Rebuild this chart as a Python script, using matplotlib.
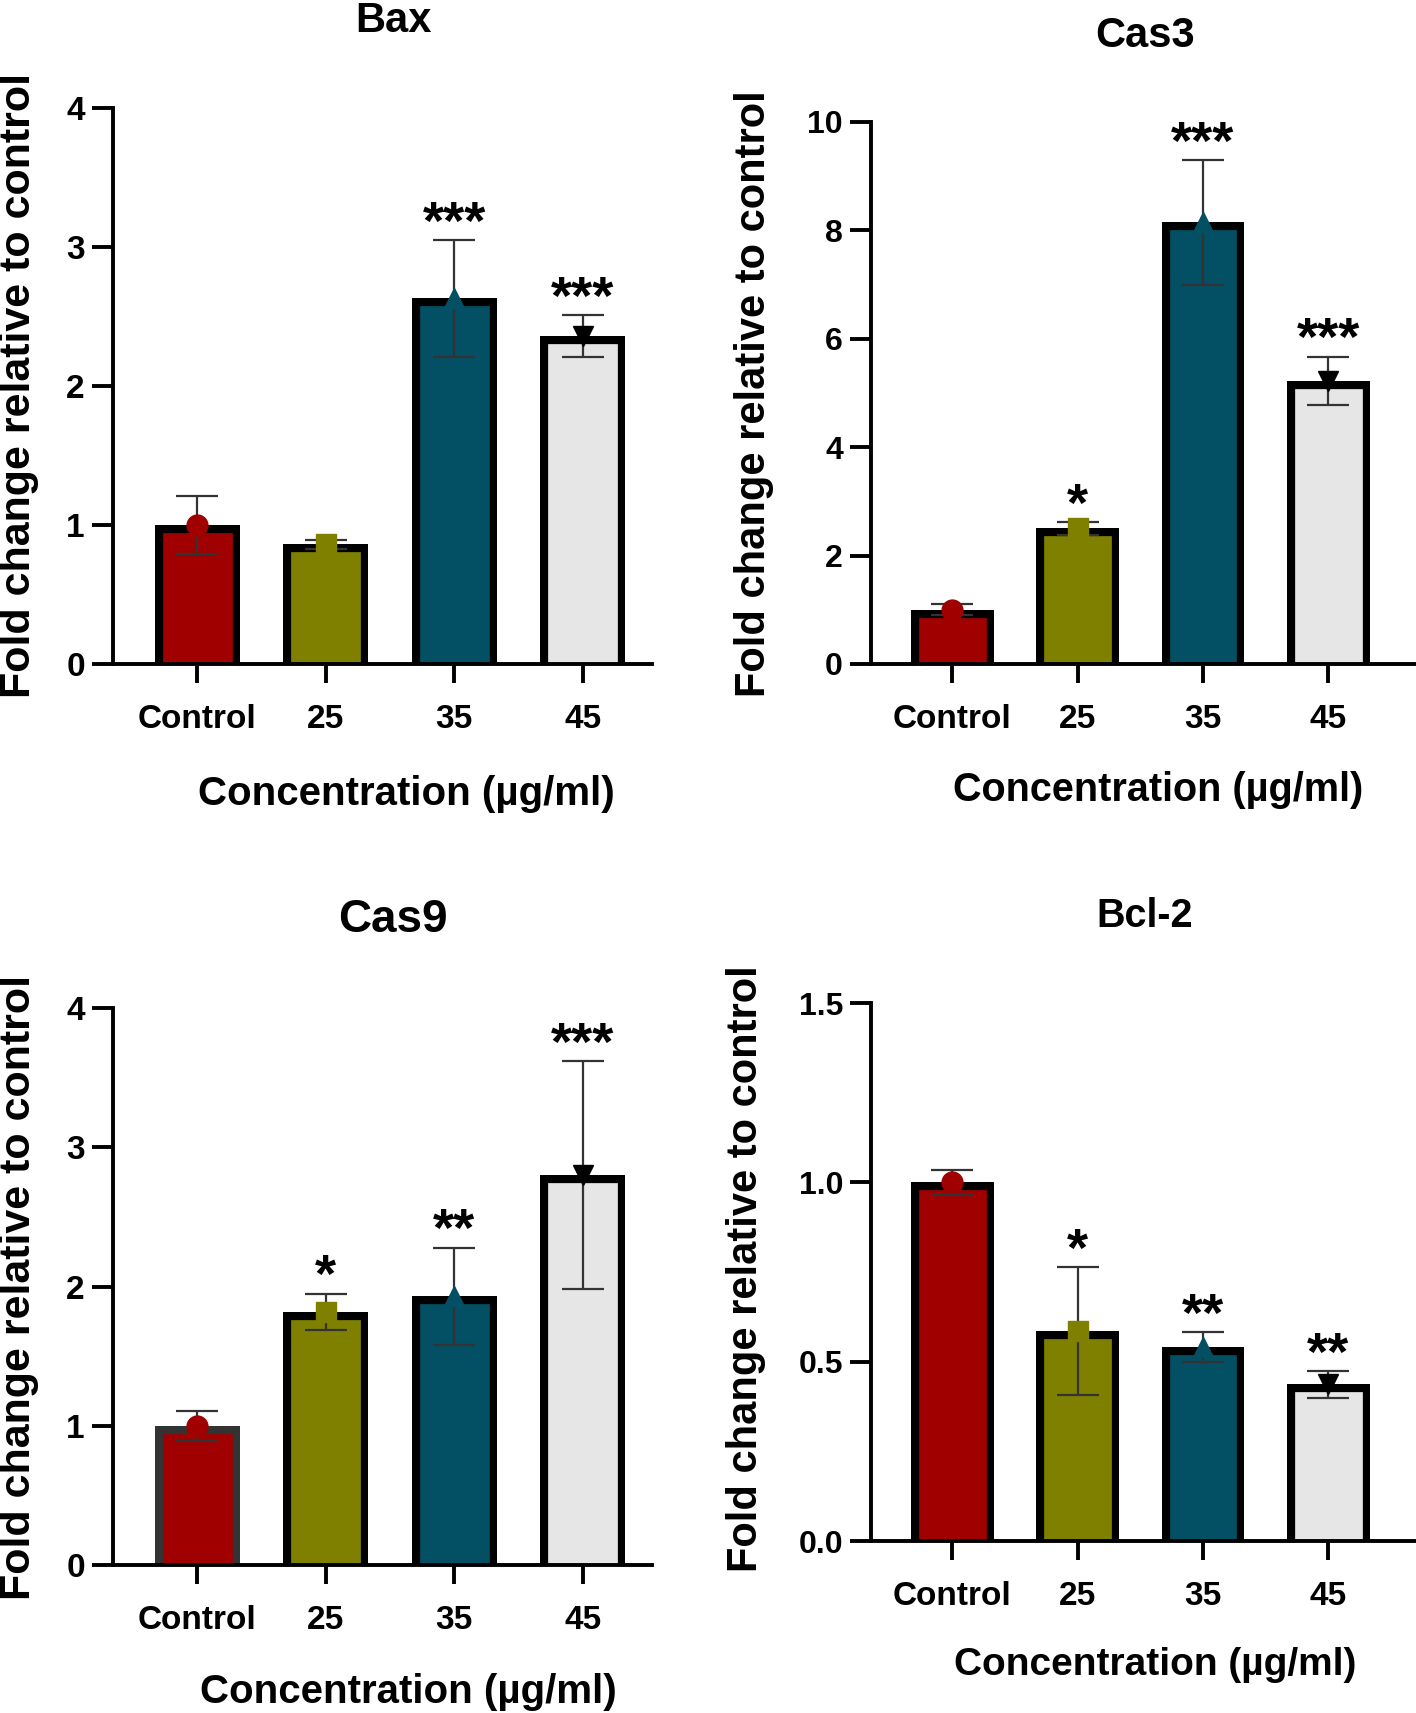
import matplotlib
matplotlib.use("Agg")
import matplotlib.pyplot as plt

plt.rcParams['font.family'] = ['Liberation Sans', 'DejaVu Sans']
plt.rcParams['font.weight'] = 'bold'

groups = ["Control", "25", "35", "45"]
bar_colors = ["#A00000", "#808000", "#034F63", "#E6E6E6"]
marker_colors = ["#A00000", "#808000", "#034F63", "#000000"]
markers = ["o", "s", "^", "v"]

bax_mean = [1.0, 0.86, 2.63, 2.36]
bax_sd = [0.21, 0.03, 0.42, 0.15]
bax_stars = ["", "", "***", "***"]

cas3_mean = [1.0, 2.50, 8.15, 5.22]
cas3_sd = [0.10, 0.12, 1.15, 0.45]
cas3_stars = ["", "*", "***", "***"]

cas9_mean = [1.0, 1.82, 1.93, 2.80]
cas9_sd = [0.11, 0.13, 0.35, 0.82]
cas9_stars = ["", "*", "**", "***"]

bcl2_mean = [1.0, 0.585, 0.54, 0.437]
bcl2_sd = [0.035, 0.178, 0.042, 0.037]
bcl2_stars = ["", "*", "**", "**"]

W, H = 1416, 1713
fig = plt.figure(figsize=(W / 100, H / 100), dpi=100)


def panel(rect, mean, sd, stars, yticks, ytick_fmt, ytick_size, xlim, edge0="black"):
    ax = fig.add_axes(rect)
    x = list(range(len(groups)))
    edges = [edge0, "black", "black", "black"]
    # start the bars a bit below zero so the bottom border hides under the axis
    below = 0.03 * yticks[-1]
    bars = ax.bar(x, [m + below for m in mean], bottom=-below, width=0.66,
                  color=bar_colors, edgecolor=edges, linewidth=11, zorder=2)
    # keep the border inside the bar outline
    for b in bars:
        b.set_clip_path(b.get_path(), b.get_transform())
    ax.errorbar(x, mean, yerr=sd, fmt="none", ecolor="#333333", elinewidth=1.6,
                capsize=15, capthick=1.6, zorder=3)
    for i in x:
        ax.plot(x[i], mean[i], marker=markers[i], color=marker_colors[i],
                markersize=15, linestyle="none", zorder=4, clip_on=False)
        if stars[i]:
            ax.annotate(stars[i], xy=(x[i], mean[i] + sd[i]), xytext=(0, 1),
                        textcoords="offset points", ha="center", va="baseline",
                        fontsize=39, fontweight="bold")
    ax.set_xlim(*xlim)
    ax.set_ylim(yticks[0], yticks[-1])
    ax.set_yticks(yticks)
    ax.set_yticklabels([ytick_fmt.format(v) for v in yticks], fontsize=ytick_size)
    ax.set_xticks(x)
    ax.set_xticklabels(groups, fontsize=24)
    for s in ["top", "right"]:
        ax.spines[s].set_visible(False)
    for s in ["left", "bottom"]:
        ax.spines[s].set_linewidth(2.8)
    ax.tick_params(axis="y", length=15, width=2.8, pad=5)
    ax.tick_params(axis="x", length=14, width=2.8, pad=15)
    return ax


panel([0.0795, 0.6124, 0.381, 0.3246], bax_mean, bax_sd, bax_stars,
      [0, 1, 2, 3, 4], "{:g}", 24, (-0.66, 3.54))
panel([0.615, 0.6124, 0.385, 0.3164], cas3_mean, cas3_sd, cas3_stars,
      [0, 2, 4, 6, 8, 10], "{:g}", 23, (-0.65, 3.70))
panel([0.0795, 0.0864, 0.381, 0.325], cas9_mean, cas9_sd, cas9_stars,
      [0, 1, 2, 3, 4], "{:g}", 24, (-0.66, 3.54), edge0="#333333")
panel([0.615, 0.1004, 0.385, 0.314], bcl2_mean, bcl2_sd, bcl2_stars,
      [0.0, 0.5, 1.0, 1.5], "{:.1f}", 23, (-0.65, 3.70))

# titles
fig.text(393 / W, 1 - 21 / H, "Bax", ha="center", va="center", fontsize=30, fontweight="bold")
fig.text(1145 / W, 1 - 36 / H, "Cas3", ha="center", va="center", fontsize=30, fontweight="bold")
fig.text(393 / W, 1 - 920 / H, "Cas9", ha="center", va="center", fontsize=33, fontweight="bold")
fig.text(1145 / W, 1 - 916 / H, "Bcl-2", ha="center", va="center", fontsize=28.5, fontweight="bold")

# axis labels
ylab = "Fold change relative to control"
xlab = "Concentration (µg/ml)"
fig.text(19 / W, 1 - 385 / H, ylab, rotation=90, ha="center", va="center", fontsize=31)
fig.text(754 / W, 1 - 394 / H, ylab, rotation=90, ha="center", va="center", fontsize=30)
fig.text(19 / W, 1 - 1287 / H, ylab, rotation=90, ha="center", va="center", fontsize=31)
fig.text(746 / W, 1 - 1269 / H, ylab, rotation=90, ha="center", va="center", fontsize=30)
fig.text(406 / W, 1 - 794 / H, xlab, ha="center", va="center", fontsize=29)
fig.text(1158 / W, 1 - 790 / H, xlab, ha="center", va="center", fontsize=28.5)
fig.text(408 / W, 1 - 1692 / H, xlab, ha="center", va="center", fontsize=29)
fig.text(1155 / W, 1 - 1665 / H, xlab, ha="center", va="center", fontsize=28)

fig.savefig("out.png", dpi=100)
